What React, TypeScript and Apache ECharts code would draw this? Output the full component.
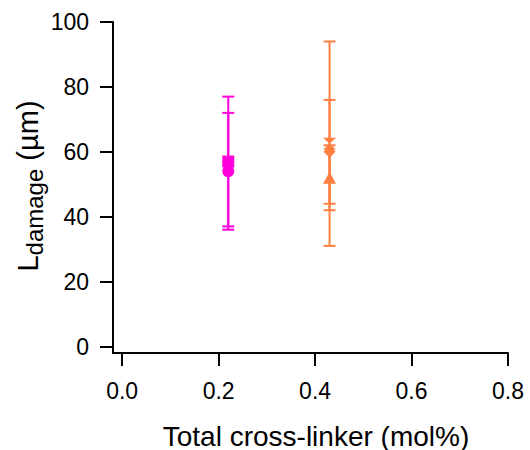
import React, { useEffect, useRef } from "react";
import * as echarts from "echarts";

// Data
const xTickValues = [0, 0.2, 0.4, 0.6, 0.8];
const yTickValues = [0, 20, 40, 60, 80, 100];
const pointX = [0.22, 0.22, 0.43, 0.43, 0.43];
const pointY = [57, 54, 62.5, 60, 52];
const pointErr = [20, 18, 31.5, 16, 10];

const PINK = "#ff00dc";
const ORANGE = "#ff7f40";
const HOURGLASS = "path://M0,0 L10,0 L0,10 L10,10 Z";

const pointStyles = [
  { symbol: "rect", size: 12, color: PINK },
  { symbol: "circle", size: 12, color: PINK },
  { symbol: HOURGLASS, size: [13, 12], color: ORANGE },
  { symbol: "diamond", size: [12, 12], color: ORANGE },
  { symbol: "triangle", size: [13, 12], color: ORANGE },
];

export default function App() {
  const ref = useRef<HTMLDivElement>(null);
  useEffect(() => {
    if (!ref.current) return;
    const chart = echarts.init(ref.current, undefined, { renderer: "svg" });
    const font = "'Liberation Sans', Arial, sans-serif";
    const errData = pointX.map((x, i) => [x, pointY[i], pointY[i] - pointErr[i], pointY[i] + pointErr[i], i]);
    const series: any[] = [
      {
        type: "custom",
        data: errData,
        renderItem: (params: any, api: any) => {
          const x = api.value(0);
          const lo = api.value(2);
          const hi = api.value(3);
          const idx = api.value(4);
          const color = pointStyles[idx].color;
          const pLo = api.coord([x, lo]);
          const pHi = api.coord([x, hi]);
          const cap = 6;
          const style = { stroke: color, lineWidth: 2 };
          return {
            type: "group",
            children: [
              { type: "line", shape: { x1: pLo[0], y1: pLo[1], x2: pHi[0], y2: pHi[1] }, style },
              { type: "line", shape: { x1: pLo[0] - cap, y1: pLo[1], x2: pLo[0] + cap, y2: pLo[1] }, style },
              { type: "line", shape: { x1: pHi[0] - cap, y1: pHi[1], x2: pHi[0] + cap, y2: pHi[1] }, style },
            ],
          };
        },
        z: 2,
      },
    ];
    pointX.forEach((x, i) => {
      const st = pointStyles[i];
      series.push({
        type: "scatter",
        data: [[x, pointY[i]]],
        symbol: st.symbol,
        symbolSize: st.size,
        itemStyle: { color: st.color, opacity: 1 },
        z: 3,
      });
    });
    chart.setOption({
      animation: false,
      grid: { left: 113, right: 22, top: 22, bottom: 97 },
      xAxis: {
        type: "value",
        min: -0.019,
        max: 0.8,
        splitLine: { show: false },
        axisLine: { show: true, onZero: false, lineStyle: { color: "#000", width: 2 } },
        axisTick: { show: true, customValues: xTickValues, length: 13, lineStyle: { color: "#000", width: 2 } },
        axisLabel: {
          customValues: xTickValues,
          formatter: (v: number) => v.toFixed(1),
          fontSize: 23,
          fontFamily: font,
          color: "#000",
          margin: 26,
        },
      },
      yAxis: {
        type: "value",
        min: -2,
        max: 100,
        splitLine: { show: false },
        axisLine: { show: true, onZero: false, lineStyle: { color: "#000", width: 2 } },
        axisTick: { show: true, customValues: yTickValues, length: 13, lineStyle: { color: "#000", width: 2 } },
        axisLabel: {
          customValues: yTickValues,
          fontSize: 23,
          fontFamily: font,
          color: "#000",
          margin: 24,
        },
      },
      graphic: [
        {
          type: "text",
          x: 316,
          y: 436,
          style: {
            text: "Total cross-linker (mol%)",
            fontSize: 28,
            lineHeight: 26,
            fontFamily: font,
            fill: "#000",
            align: "center",
            verticalAlign: "middle",
          },
        },
        {
          type: "text",
          x: 28,
          y: 186,
          rotation: Math.PI / 2,
          style: {
            text: "{L|L}{sub|damage}{n| (µm)}",
            align: "center",
            verticalAlign: "middle",
            fontFamily: font,
            fill: "#000",
            rich: {
              L: { fontSize: 29, fontFamily: font, fill: "#000", lineHeight: 36 },
              sub: { fontSize: 24, fontFamily: font, fill: "#000", lineHeight: 36, verticalAlign: "bottom", padding: [14, 0, 0, 0] },
              n: { fontSize: 29, fontFamily: font, fill: "#000", lineHeight: 36 },
            },
          },
        },
      ],
      series,
    });
    return () => chart.dispose();
  }, []);
  return <div ref={ref} style={{ position: "absolute", left: 0, top: 0, width: 530, height: 450 }} />;
}
